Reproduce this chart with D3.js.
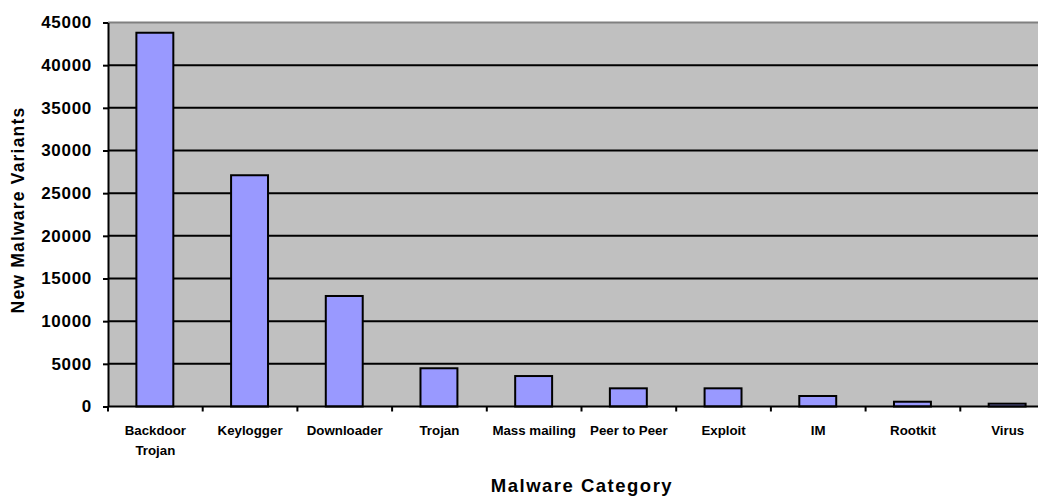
<!DOCTYPE html>
<html>
<head>
<meta charset="utf-8">
<script src="https://cdn.jsdelivr.net/npm/d3@7"></script>
<style>
  html, body { margin: 0; padding: 0; background: #fff; overflow: hidden; }
  svg { display: block; font-family: "Liberation Sans", Arial, sans-serif; }
</style>
</head>
<body>
<svg id="chart" width="1038" height="497"></svg>
<script>
// Malware categories and counts of new variants
const categories = ["Backdoor Trojan", "Keylogger", "Downloader", "Trojan", "Mass mailing",
                    "Peer to Peer", "Exploit", "IM", "Rootkit", "Virus"];
const variants = [43800, 27100, 12950, 4480, 3570, 2130, 2130, 1230, 560, 330];
const yTicks = [0, 5000, 10000, 15000, 20000, 25000, 30000, 35000, 40000, 45000];

const svg = d3.select("#chart");
const plot = { left: 108, right: 1055, top: 22.5, bottom: 406.5 };

const x = d3.scaleBand().domain(categories).range([plot.left, plot.right]).paddingInner(0.61).paddingOuter(0.305);
const y = d3.scaleLinear().domain([0, 45000]).range([plot.bottom, plot.top]);

// plot background
svg.append("rect")
  .attr("x", plot.left).attr("y", plot.top)
  .attr("width", plot.right - plot.left).attr("height", plot.bottom - plot.top)
  .attr("fill", "#c0c0c0");

// top border
svg.append("line")
  .attr("x1", plot.left).attr("x2", plot.right)
  .attr("y1", plot.top).attr("y2", plot.top)
  .attr("stroke", "#808080").attr("stroke-width", 2);

// horizontal gridlines
svg.append("g").selectAll("line")
  .data(yTicks.filter(d => d > 0 && d < 45000))
  .join("line")
  .attr("x1", plot.left).attr("x2", plot.right)
  .attr("y1", d => y(d)).attr("y2", d => y(d))
  .attr("stroke", "#000").attr("stroke-width", 2);

// bars
svg.append("g").selectAll("rect")
  .data(categories)
  .join("rect")
  .attr("x", d => x(d) - 0.5)
  .attr("y", (d, i) => y(variants[i]))
  .attr("width", x.bandwidth())
  .attr("height", (d, i) => y(0) - y(variants[i]))
  .attr("fill", "#9999ff")
  .attr("stroke", "#000")
  .attr("stroke-width", 2);

// y axis
const yAxis = svg.append("g")
  .attr("transform", `translate(${plot.left},0)`)
  .call(d3.axisLeft(y).tickValues(yTicks).tickFormat(d3.format("d"))
    .tickSize(5).tickPadding(11).tickSizeOuter(0));
yAxis.select(".domain").attr("stroke", "#000").attr("stroke-width", 2);
yAxis.selectAll(".tick line").attr("stroke", "#000").attr("stroke-width", 2);
yAxis.selectAll(".tick text")
  .attr("font-size", 17).attr("font-weight", "bold").attr("fill", "#000")
  .attr("letter-spacing", 0.7)
  .attr("font-family", "Liberation Sans, Arial, sans-serif");

// x axis line
svg.append("line")
  .attr("x1", plot.left).attr("x2", plot.right)
  .attr("y1", plot.bottom).attr("y2", plot.bottom)
  .attr("stroke", "#000").attr("stroke-width", 2);

// x ticks at category boundaries
const step = x.step();
svg.append("g").selectAll("line")
  .data(d3.range(categories.length + 1))
  .join("line")
  .attr("x1", i => plot.left + i * step).attr("x2", i => plot.left + i * step)
  .attr("y1", plot.bottom).attr("y2", plot.bottom + 5)
  .attr("stroke", "#000").attr("stroke-width", 2);

// category labels (wrapped into two lines where needed)
const wrapped = { "Backdoor Trojan": ["Backdoor", "Trojan"] };
const labels = svg.append("g").selectAll("text")
  .data(categories)
  .join("text")
  .attr("x", d => x(d) + x.bandwidth() / 2)
  .attr("y", 435)
  .attr("text-anchor", "middle")
  .attr("font-size", 13.3).attr("font-weight", "bold").attr("fill", "#000");
labels.each(function(d) {
  const lines = wrapped[d] || [d];
  d3.select(this).selectAll("tspan")
    .data(lines)
    .join("tspan")
    .attr("x", x(d) + x.bandwidth() / 2)
    .attr("dy", (l, i) => i === 0 ? 0 : 20)
    .text(l => l);
});

// axis titles
svg.append("text")
  .attr("x", 582).attr("y", 492)
  .attr("text-anchor", "middle")
  .attr("font-size", 18.5).attr("font-weight", "bold")
  .attr("letter-spacing", 1.5)
  .text("Malware Category");

svg.append("text")
  .attr("transform", "translate(24,210) rotate(-90)")
  .attr("text-anchor", "middle")
  .attr("font-size", 17.5).attr("font-weight", "bold")
  .attr("letter-spacing", 1.2)
  .text("New Malware Variants");
</script>
</body>
</html>
